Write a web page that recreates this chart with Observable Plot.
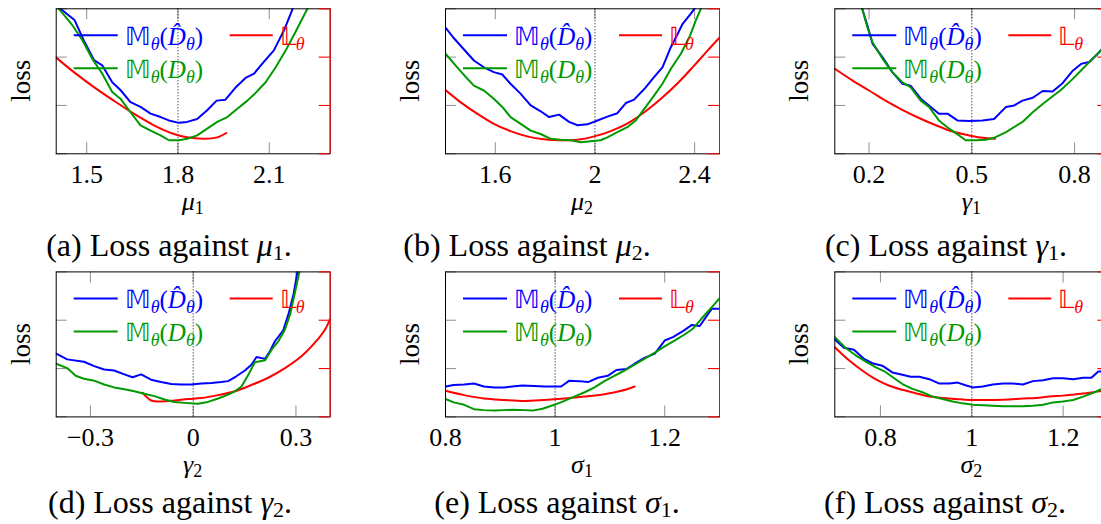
<!DOCTYPE html>
<html><head><meta charset="utf-8">
<script src="https://cdn.jsdelivr.net/npm/d3@7"></script>
<script src="https://cdn.jsdelivr.net/npm/@observablehq/plot@0.6"></script>
<style>
html,body{margin:0;padding:0;width:1101px;height:524px;overflow:hidden;background:#fff}
#root{position:relative;width:1101px;height:524px;overflow:hidden;font-family:"Liberation Serif",serif}
#root svg.panel{position:absolute}
#overlay{position:absolute;left:0;top:0;pointer-events:none}
#root svg text, #root svg tspan{font-family:"Liberation Serif",serif !important}
</style></head><body><div id="root"></div>
<script>
// ---- data (x, loss); loss in axis units 0..3 ----
const a_blue = [[1.4,3.12],[1.414,3.0],[1.46,2.77],[1.491,2.34],[1.524,1.94],[1.551,1.83],[1.584,1.48],[1.611,1.32],[1.644,1.07],[1.677,0.97],[1.71,0.83],[1.743,0.76],[1.77,0.69],[1.803,0.64],[1.83,0.66],[1.863,0.72],[1.896,0.9],[1.927,1.1],[1.956,1.12],[1.989,1.37],[2.022,1.57],[2.05,1.66],[2.082,1.9],[2.115,2.14],[2.148,2.55],[2.175,2.97],[2.186,3.17]];
const a_green = [[1.4,3.1],[1.409,3.0],[1.453,2.66],[1.485,2.36],[1.518,1.97],[1.551,1.66],[1.584,1.28],[1.611,1.14],[1.644,0.86],[1.677,0.59],[1.71,0.48],[1.743,0.38],[1.77,0.28],[1.803,0.28],[1.83,0.31],[1.863,0.38],[1.896,0.52],[1.929,0.66],[1.962,0.76],[1.995,0.93],[2.028,1.1],[2.055,1.26],[2.088,1.48],[2.121,1.79],[2.154,2.14],[2.186,2.52],[2.225,3.0],[2.241,3.2]];
const a_red = [[1.4,1.99],[1.458,1.69],[1.524,1.38],[1.589,1.1],[1.655,0.83],[1.721,0.59],[1.787,0.41],[1.83,0.34],[1.885,0.31],[1.929,0.34],[1.959,0.43]];

const b_blue = [[1.4,2.61],[1.434,2.39],[1.467,2.2],[1.514,1.93],[1.554,1.79],[1.594,1.69],[1.628,1.64],[1.661,1.45],[1.702,1.24],[1.742,1.0],[1.782,0.88],[1.816,0.76],[1.856,0.81],[1.896,0.66],[1.93,0.59],[1.97,0.61],[2.01,0.69],[2.05,0.77],[2.09,0.84],[2.124,1.05],[2.157,1.12],[2.198,1.34],[2.238,1.59],[2.271,1.79],[2.305,2.21],[2.332,2.48],[2.352,2.69],[2.385,2.9],[2.399,3.0],[2.419,3.17]];
const b_green = [[1.4,2.07],[1.447,1.79],[1.481,1.59],[1.514,1.41],[1.554,1.31],[1.594,1.14],[1.628,0.97],[1.661,0.76],[1.702,0.62],[1.742,0.48],[1.782,0.41],[1.822,0.31],[1.862,0.29],[1.903,0.28],[1.943,0.24],[1.983,0.26],[2.023,0.28],[2.05,0.34],[2.09,0.45],[2.13,0.55],[2.164,0.69],[2.198,0.93],[2.238,1.21],[2.271,1.45],[2.305,1.76],[2.345,2.07],[2.379,2.41],[2.405,2.76],[2.425,3.0],[2.439,3.17]];
const b_red = [[1.4,1.32],[1.46,1.07],[1.527,0.83],[1.594,0.62],[1.661,0.47],[1.728,0.36],[1.795,0.3],[1.862,0.28],[1.93,0.29],[1.997,0.36],[2.064,0.47],[2.131,0.63],[2.198,0.86],[2.265,1.14],[2.332,1.46],[2.399,1.83],[2.453,2.14],[2.5,2.4]];

const c_blue = [[0.172,3.17],[0.18,3.0],[0.195,2.66],[0.21,2.28],[0.239,2.0],[0.268,1.69],[0.297,1.45],[0.321,1.41],[0.351,1.14],[0.375,1.0],[0.404,0.83],[0.429,0.83],[0.458,0.69],[0.492,0.68],[0.531,0.69],[0.565,0.72],[0.6,0.97],[0.624,1.0],[0.648,1.1],[0.678,1.16],[0.707,1.3],[0.736,1.29],[0.765,1.46],[0.795,1.72],[0.819,1.86],[0.843,1.9],[0.868,2.07],[0.88,2.17],[0.9,2.35]];
const c_green = [[0.172,3.17],[0.18,3.0],[0.195,2.62],[0.21,2.31],[0.239,1.97],[0.268,1.69],[0.297,1.48],[0.321,1.38],[0.351,1.1],[0.375,0.97],[0.404,0.69],[0.434,0.52],[0.463,0.38],[0.482,0.28],[0.512,0.28],[0.541,0.29],[0.565,0.33],[0.6,0.45],[0.648,0.66],[0.678,0.86],[0.707,1.03],[0.76,1.32],[0.795,1.55],[0.824,1.76],[0.853,1.97],[0.88,2.16],[0.9,2.3]];
const c_red = [[0.1,1.76],[0.151,1.52],[0.2,1.31],[0.248,1.1],[0.297,0.91],[0.346,0.74],[0.395,0.59],[0.444,0.46],[0.492,0.38],[0.531,0.33],[0.568,0.31]];

const d_blue = [[-0.4,1.31],[-0.368,1.19],[-0.319,1.14],[-0.289,1.05],[-0.26,0.98],[-0.231,0.96],[-0.201,0.88],[-0.177,0.82],[-0.152,0.88],[-0.123,0.77],[-0.094,0.72],[-0.064,0.68],[-0.035,0.67],[-0.006,0.67],[0.024,0.69],[0.053,0.7],[0.082,0.72],[0.102,0.74],[0.126,0.84],[0.151,0.96],[0.17,1.08],[0.185,1.24],[0.21,1.2],[0.224,1.36],[0.239,1.57],[0.263,1.79],[0.278,2.12],[0.293,2.54],[0.303,2.94],[0.307,3.17]];
const d_green = [[-0.4,1.1],[-0.368,1.01],[-0.343,0.85],[-0.319,0.79],[-0.289,0.75],[-0.26,0.67],[-0.231,0.61],[-0.201,0.57],[-0.172,0.53],[-0.143,0.48],[-0.113,0.43],[-0.084,0.36],[-0.055,0.31],[-0.025,0.29],[0.014,0.27],[0.043,0.31],[0.073,0.38],[0.102,0.46],[0.122,0.53],[0.141,0.63],[0.161,0.87],[0.18,1.13],[0.21,1.17],[0.229,1.39],[0.249,1.57],[0.268,1.81],[0.283,2.12],[0.297,2.57],[0.31,3.0],[0.317,3.17]];
const d_red = [[-0.148,0.5],[-0.123,0.34],[-0.094,0.32],[-0.055,0.34],[-0.015,0.37],[0.024,0.39],[0.073,0.45],[0.122,0.53],[0.17,0.66],[0.219,0.81],[0.268,1.01],[0.317,1.26],[0.356,1.54],[0.385,1.81],[0.4,2.03]];

const e_blue = [[0.8,0.63],[0.815,0.66],[0.834,0.67],[0.852,0.69],[0.87,0.63],[0.889,0.61],[0.907,0.61],[0.922,0.63],[0.94,0.65],[0.962,0.64],[0.98,0.63],[0.999,0.63],[1.011,0.63],[1.026,0.75],[1.044,0.74],[1.06,0.72],[1.078,0.81],[1.096,0.85],[1.112,0.97],[1.13,0.99],[1.145,1.1],[1.163,1.22],[1.182,1.31],[1.2,1.58],[1.215,1.65],[1.234,1.78],[1.249,1.9],[1.264,1.88],[1.286,2.24],[1.3,2.24]];
const e_green = [[0.8,0.37],[0.815,0.3],[0.834,0.25],[0.852,0.16],[0.87,0.14],[0.889,0.13],[0.907,0.14],[0.925,0.15],[0.944,0.14],[0.959,0.13],[0.977,0.17],[0.999,0.25],[1.017,0.33],[1.035,0.42],[1.054,0.51],[1.072,0.61],[1.09,0.74],[1.108,0.85],[1.127,0.96],[1.145,1.08],[1.163,1.2],[1.182,1.33],[1.2,1.46],[1.218,1.58],[1.237,1.71],[1.252,1.83],[1.267,2.03],[1.286,2.27],[1.3,2.45]];
const e_red = [[0.8,0.54],[0.834,0.45],[0.87,0.38],[0.907,0.35],[0.944,0.33],[0.98,0.35],[1.017,0.38],[1.054,0.42],[1.09,0.47],[1.121,0.54],[1.145,0.63]];

const f_blue = [[0.7,1.6],[0.72,1.43],[0.742,1.39],[0.764,1.2],[0.782,1.11],[0.804,1.06],[0.826,0.92],[0.848,0.87],[0.866,0.83],[0.885,0.83],[0.907,0.78],[0.929,0.69],[0.951,0.69],[0.969,0.71],[0.988,0.65],[1.002,0.61],[1.024,0.63],[1.046,0.67],[1.068,0.69],[1.09,0.69],[1.112,0.67],[1.134,0.74],[1.156,0.76],[1.178,0.8],[1.2,0.8],[1.222,0.78],[1.244,0.81],[1.262,0.81],[1.277,0.94],[1.286,0.94],[1.3,0.95]];
const f_green = [[0.7,1.65],[0.723,1.43],[0.745,1.28],[0.767,1.15],[0.789,1.03],[0.811,0.93],[0.83,0.8],[0.848,0.68],[0.87,0.58],[0.892,0.51],[0.914,0.42],[0.936,0.37],[0.958,0.32],[0.98,0.28],[1.002,0.25],[1.024,0.24],[1.046,0.23],[1.068,0.22],[1.09,0.22],[1.112,0.22],[1.134,0.23],[1.156,0.25],[1.178,0.3],[1.2,0.32],[1.222,0.35],[1.244,0.42],[1.266,0.5],[1.286,0.58],[1.3,0.62]];
const f_red = [[0.7,1.44],[0.731,1.17],[0.76,0.96],[0.789,0.78],[0.818,0.65],[0.848,0.56],[0.877,0.49],[0.907,0.42],[0.936,0.39],[0.965,0.37],[0.995,0.35],[1.024,0.35],[1.053,0.35],[1.082,0.36],[1.112,0.38],[1.141,0.39],[1.17,0.42],[1.2,0.44],[1.229,0.47],[1.258,0.5],[1.286,0.54],[1.3,0.56]];

// axis settings
const xDomains = {a:[1.4,2.3], b:[1.4,2.5], c:[0.1,0.9], d:[-0.4,0.4], e:[0.8,1.3], f:[0.7,1.3]};
const xTicks = {a:[1.5,1.8,2.1], b:[1.6,2,2.4], c:[0.2,0.5,0.8], d:[-0.3,0,0.3], e:[0.8,1,1.2], f:[0.8,1,1.2]};
const refX = {a:1.8, b:2, c:0.5, d:0, e:1, f:1};
const yTicks = [0,1,2,3];
const xSym = {a:["μ","1"], b:["μ","2"], c:["γ","1"], d:["γ","2"], e:["σ","1"], f:["σ","2"]};
const captionText = "Loss against";
const yLabel = "loss";

// layout
const W = 274, H = 145;
const FONT = "Liberation Serif";
const BLUE = "#0000ff", GREEN = "#009900", RED = "#ff0000", TICK = "#999999";
const layout = {
  a:{fl:55.7, ft:8.3, cap:169, capY:256}, b:{fl:445, ft:8.3, cap:527, capY:256}, c:{fl:834.3, ft:8.3, cap:946, capY:256},
  d:{fl:55.7, ft:271.4, cap:170, capY:513}, e:{fl:445, ft:271.4, cap:557, capY:513}, f:{fl:834.3, ft:271.4, cap:945, capY:513}
};
const series = {
  a:{blue:a_blue, green:a_green, red:a_red}, b:{blue:b_blue, green:b_green, red:b_red},
  c:{blue:c_blue, green:c_green, red:c_red}, d:{blue:d_blue, green:d_green, red:d_red},
  e:{blue:e_blue, green:e_green, red:e_red}, f:{blue:f_blue, green:f_green, red:f_red}
};

const root = document.getElementById("root");
const fmt = d => String(d).replace("-", "\u2212");

for (const k of Object.keys(layout)) {
  const L = layout[k];
  const left = Math.floor(L.fl) - 2, top = Math.floor(L.ft) - 2;
  const mL = L.fl - left, mT = L.ft - top;
  const s = series[k];
  const dom = xDomains[k];
  const svg = Plot.plot({
    width: mL + W + 4, height: mT + H + 40,
    marginLeft: mL, marginRight: 4, marginTop: mT, marginBottom: 40,
    x: {domain: dom},
    y: {domain: [0, 3], axis: null},
    style: {fontFamily: FONT, fontSize: "26px", background: "transparent", overflow: "visible", color: "black"},
    marks: [
      Plot.tickX(xTicks[k], {x: d => d, stroke: TICK, strokeWidth: 1.1, insetBottom: H - 11}),
      Plot.tickX(xTicks[k], {x: d => d, stroke: TICK, strokeWidth: 1.1, insetTop: H - 11}),
      Plot.tickY(yTicks, {y: d => d, stroke: TICK, strokeWidth: 1.1, insetRight: W - 11}),
      Plot.ruleX([refX[k]], {stroke: "black", strokeWidth: 1, strokeDasharray: "1 2"}),
      Plot.line(s.blue, {x: d => d[0], y: d => d[1], stroke: BLUE, strokeWidth: 2, clip: true}),
      Plot.line(s.red, {x: d => d[0], y: d => d[1], stroke: RED, strokeWidth: 2, clip: true, curve: "catmull-rom"}),
      Plot.line(s.green, {x: d => d[0], y: d => d[1], stroke: GREEN, strokeWidth: 2, clip: true}),
      Plot.frame({stroke: "black", strokeWidth: 1}),
      Plot.ruleX([dom[1]], {stroke: RED, strokeWidth: 1}),
      Plot.tickY(yTicks, {y: d => d, stroke: RED, strokeWidth: 1.1, insetLeft: W - 11}),
      Plot.axisX({ticks: xTicks[k], tickSize: 0, tickPadding: 11, tickFormat: fmt, label: null, fontSize: 26})
    ]
  });
  svg.classList.add("panel");
  svg.style.left = left + "px";
  svg.style.top = top + "px";
  root.appendChild(svg);
}

// overlay: legends, axis labels, captions
const NS = "http://www.w3.org/2000/svg";
const ov = document.createElementNS(NS, "svg");
ov.setAttribute("id", "overlay");
ov.setAttribute("width", 1101); ov.setAttribute("height", 524);
root.appendChild(ov);
function el(tag, attrs, parent) {
  const e = document.createElementNS(NS, tag);
  for (const a in attrs) e.setAttribute(a, attrs[a]);
  (parent || ov).appendChild(e);
  return e;
}
function addText(parent, parts, attrs) {
  const t = el("text", Object.assign({"font-family": FONT}, attrs), parent);
  for (const p of parts) {
    const ts = el("tspan", {}, t);
    ts.textContent = p.t;
    if (p.i) ts.setAttribute("font-style", "italic");
    if (p.fs) ts.setAttribute("font-size", p.fs);
    if (p.dy) ts.setAttribute("dy", p.dy);
  }
  return t;
}
const letters = {a:"(a)", b:"(b)", c:"(c)", d:"(d)", e:"(e)", f:"(f)"};
for (const k of Object.keys(layout)) {
  const L = layout[k];
  const g = el("g", {});
  // legend samples
  el("line", {x1: L.fl + 18, x2: L.fl + 62, y1: L.ft + 27, y2: L.ft + 27, stroke: BLUE, "stroke-width": 2}, g);
  el("line", {x1: L.fl + 174, x2: L.fl + 217, y1: L.ft + 27, y2: L.ft + 27, stroke: RED, "stroke-width": 2}, g);
  el("line", {x1: L.fl + 18, x2: L.fl + 62, y1: L.ft + 60, y2: L.ft + 60, stroke: GREEN, "stroke-width": 2}, g);
  addText(g, [{t:"𝕄"},{t:"θ",i:1,fs:18,dy:5},{t:"(",dy:-5},{t:"D\u0302",i:1},{t:"θ",i:1,fs:18,dy:5},{t:")",dy:-5}],
    {x: L.fl + 69, y: L.ft + 37, fill: BLUE, "font-size": 25});
  addText(g, [{t:"𝕃"},{t:"θ",i:1,fs:18,dy:5}],
    {x: L.fl + 224, y: L.ft + 37, fill: RED, "font-size": 25});
  addText(g, [{t:"𝕄"},{t:"θ",i:1,fs:18,dy:5},{t:"(",dy:-5},{t:"D",i:1},{t:"θ",i:1,fs:18,dy:5},{t:")",dy:-5}],
    {x: L.fl + 69, y: L.ft + 70, fill: GREEN, "font-size": 25});
  // y label
  addText(g, [{t: yLabel}], {x: 0, y: 0, "font-size": 27, "text-anchor": "middle",
    transform: `translate(${L.fl - 26},${L.ft + H / 2}) rotate(-90)`});
  // x label
  addText(g, [{t: xSym[k][0], i:1},{t: xSym[k][1], fs:18, dy:4}],
    {x: L.fl + W / 2, y: L.ft + 202, "font-size": 26, "text-anchor": "middle"});
  // caption
  addText(g, [{t: letters[k] + " " + captionText + " "},{t: xSym[k][0], i:1},{t: xSym[k][1], fs:22, dy:4},{t: ".", dy:-4}],
    {x: L.cap, y: L.capY, "font-size": 32, "text-anchor": "middle"});
}
</script></body></html>
